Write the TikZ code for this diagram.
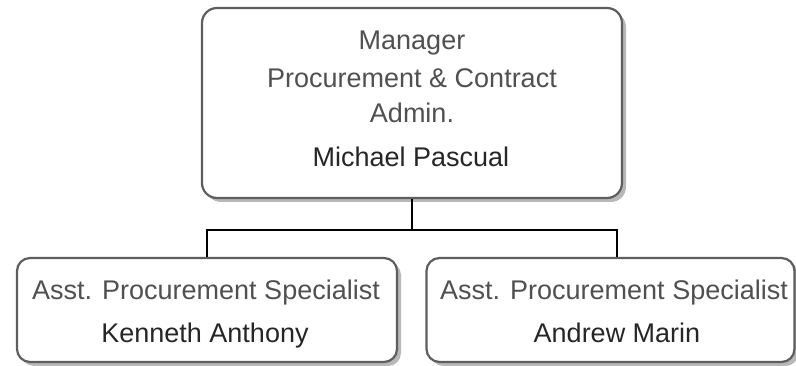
\documentclass[tikz,border=0pt]{standalone}
\usepackage{fontspec}
\setmainfont{Liberation Sans}
\usetikzlibrary{shadows}
\definecolor{boxline}{HTML}{5E5E5E}
\definecolor{shade}{HTML}{B8B8B8}
\definecolor{titletxt}{HTML}{505050}
\definecolor{nametxt}{HTML}{262626}
\begin{document}
\begin{tikzpicture}[x=1pt,y=1pt,
  orgbox/.style={draw=boxline, line width=2.2pt, fill=white, rounded corners=15pt,
    general shadow={shadow xshift=4pt, shadow yshift=-4pt, fill=shade},
    inner sep=0pt},
  ttl/.style={anchor=base, inner sep=0pt, font=\fontsize{27}{33}\selectfont, text=titletxt},
  nm/.style={anchor=base, inner sep=0pt, font=\fontsize{27}{33}\selectfont, text=nametxt},
  conn/.style={draw=black, line width=2pt}]
\useasboundingbox (0,0) rectangle (796,366);
\node[orgbox, minimum width=420pt, minimum height=190pt] (mgr) at (412,263) {};
\node[orgbox, rounded corners=13pt, minimum width=380pt, minimum height=104pt] (ka) at (207,56) {};
\node[orgbox, rounded corners=13pt, minimum width=368pt, minimum height=104pt] (am) at (610.5,56) {};
\node[ttl] (m1) at (412,316) {Manager};
\node[ttl] (m2) at (412,278) {Procurement \& Contract};
\node[ttl] (m3) at (412,243) {Admin.};
\node[nm]  (m4) at (411,199) {Michael Pascual};
\node[ttl] (k1) at (206,66) {Asst. Procurement Specialist};
\node[nm]  (k2) at (205,23) {Kenneth Anthony};
\node[ttl] (a1) at (614,66) {Asst. Procurement Specialist};
\node[nm]  (a2) at (617,23) {Andrew Marin};
\coordinate (bus) at (412,136);
\draw[conn] (mgr.south) -- (bus);
\draw[conn] (bus) -| (ka.north);
\draw[conn] (bus) -| ([xshift=6.5pt]am.north);
\end{tikzpicture}
\end{document}
